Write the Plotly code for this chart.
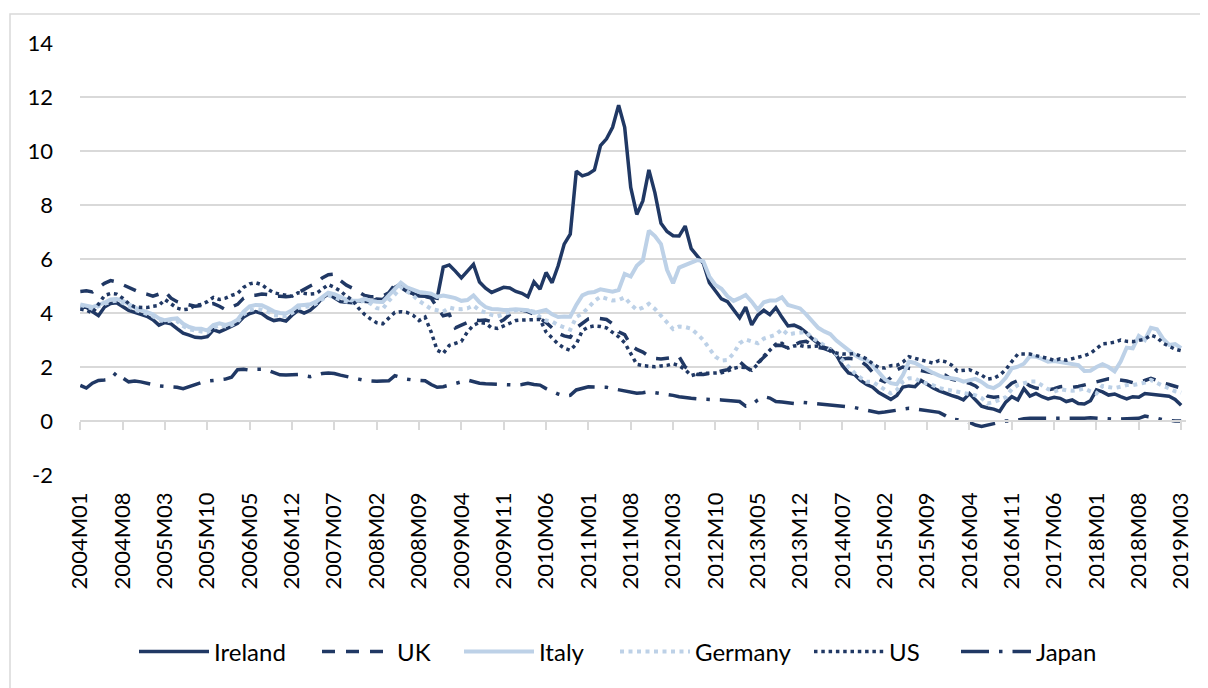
import plotly.graph_objects as go

months = [f"{2004 + k // 12}M{k % 12 + 1:02d}" for k in range(183)]
tick_labels = months[::7]
y_ticks = [-2, 0, 2, 4, 6, 8, 10, 12, 14]
y_tick_text = ["-2", "0", "2", "4", "6", "8", "10", "12", "14"]

ireland = [
    4.20, 4.22, 4.05, 3.90, 4.22, 4.35, 4.38, 4.25, 4.10, 4.02,
    3.95, 3.88, 3.75, 3.55, 3.65, 3.60, 3.42, 3.25, 3.18, 3.10,
    3.08, 3.12, 3.38, 3.30, 3.40, 3.50, 3.62, 3.85, 3.98, 4.05,
    3.98, 3.82, 3.72, 3.76, 3.70, 3.92, 4.10, 4.00, 4.10, 4.30,
    4.55, 4.70, 4.55, 4.42, 4.40, 4.38, 4.45, 4.42, 4.41, 4.52,
    4.50, 4.70, 4.95, 5.08, 4.85, 4.72, 4.63, 4.62, 4.60, 4.55,
    5.70, 5.78, 5.55, 5.30, 5.55, 5.80, 5.15, 4.92, 4.76, 4.85,
    4.95, 4.93, 4.80, 4.73, 4.60, 5.15, 4.88, 5.50, 5.12, 5.75,
    6.55, 6.92, 9.25, 9.08, 9.15, 9.30, 10.20, 10.45, 10.88, 11.70,
    10.88, 8.65, 7.65, 8.15, 9.30, 8.45, 7.32, 7.02, 6.86, 6.85,
    7.22, 6.38, 6.10, 5.84, 5.12, 4.80, 4.52, 4.42, 4.12, 3.82,
    4.22, 3.56, 3.92, 4.10, 3.94, 4.20, 3.84, 3.52, 3.55, 3.45,
    3.28, 3.05, 2.88, 2.72, 2.66, 2.45, 2.05, 1.78, 1.72, 1.50,
    1.35, 1.25, 1.05, 0.92, 0.80, 0.95, 1.26, 1.30, 1.27, 1.50,
    1.35, 1.22, 1.12, 1.02, 0.95, 0.88, 0.78, 1.02, 0.80, 0.55,
    0.48, 0.44, 0.36, 0.70, 0.90, 0.78, 1.20, 0.92, 1.02, 0.90,
    0.82, 0.88, 0.84, 0.72, 0.78, 0.65, 0.63, 0.75, 1.15, 1.08,
    0.96, 1.00, 0.90, 0.82, 0.90, 0.88, 1.02, 1.00, 0.97, 0.96,
    0.92, 0.80, 0.58,
]

uk = [
    4.80, 4.82, 4.78, 4.95, 5.10, 5.20, 5.15, 5.05, 4.95, 4.85,
    4.75, 4.70, 4.62, 4.70, 4.80, 4.55, 4.42, 4.35, 4.30, 4.25,
    4.28, 4.32, 4.35, 4.25, 4.12, 4.22, 4.32, 4.55, 4.65, 4.66,
    4.70, 4.68, 4.62, 4.62, 4.60, 4.62, 4.75, 4.90, 5.00, 5.10,
    5.30, 5.42, 5.44, 5.20, 5.03, 4.92, 4.80, 4.65, 4.60, 4.60,
    4.62, 4.75, 5.05, 4.95, 4.80, 4.72, 4.65, 4.62, 4.55, 4.20,
    3.90, 3.95, 3.45, 3.55, 3.65, 3.74, 3.72, 3.74, 3.68, 3.62,
    3.75, 3.95, 4.10, 4.11, 4.05, 3.95, 3.80, 3.65, 3.45, 3.25,
    3.15, 3.10, 3.45, 3.60, 3.78, 3.82, 3.80, 3.76, 3.60, 3.30,
    3.20, 2.80, 2.65, 2.55, 2.40, 2.32, 2.30, 2.32, 2.35, 2.38,
    2.00, 1.85, 1.72, 1.72, 1.75, 1.80, 1.85, 1.90, 2.10, 2.20,
    2.00, 1.85, 2.15, 2.35, 2.57, 2.81, 2.80, 2.70, 2.80, 2.92,
    2.95, 2.82, 2.72, 2.68, 2.60, 2.45, 2.30, 2.32, 2.30, 2.22,
    2.05, 1.80, 1.55, 1.45, 1.60, 1.90, 2.00, 1.95, 1.90, 1.85,
    1.80, 1.78, 1.75, 1.70, 1.55, 1.50, 1.45, 1.40, 1.30, 1.10,
    0.92, 0.88, 0.90, 1.20, 1.40, 1.50, 1.45, 1.30, 1.22, 1.18,
    1.15, 1.20, 1.27, 1.30, 1.25, 1.28, 1.33, 1.40, 1.46, 1.50,
    1.56, 1.55, 1.52, 1.48, 1.42, 1.40, 1.50, 1.58, 1.50, 1.40,
    1.35, 1.30, 1.22,
]

italy = [
    4.32, 4.28, 4.22, 4.30, 4.38, 4.50, 4.52, 4.45, 4.32, 4.20,
    4.12, 4.05, 3.95, 3.80, 3.73, 3.78, 3.80, 3.60, 3.48, 3.42,
    3.42, 3.35, 3.55, 3.62, 3.56, 3.62, 3.75, 4.05, 4.25, 4.30,
    4.29, 4.18, 4.06, 4.00, 3.98, 4.10, 4.28, 4.30, 4.32, 4.42,
    4.60, 4.75, 4.70, 4.60, 4.50, 4.46, 4.45, 4.52, 4.45, 4.42,
    4.41, 4.65, 4.90, 5.12, 4.95, 4.85, 4.78, 4.75, 4.72, 4.60,
    4.65, 4.60, 4.55, 4.45, 4.48, 4.65, 4.40, 4.22, 4.15, 4.14,
    4.11, 4.12, 4.14, 4.12, 4.10, 4.00, 4.05, 4.11, 3.95, 3.85,
    3.87, 3.86, 4.30, 4.65, 4.75, 4.78, 4.88, 4.85, 4.79, 4.85,
    5.45, 5.35, 5.75, 5.95, 7.05, 6.85, 6.55, 5.60, 5.10, 5.68,
    5.78, 5.86, 5.96, 5.92, 5.35, 5.04, 4.90, 4.62, 4.45, 4.55,
    4.67, 4.42, 4.12, 4.40, 4.46, 4.46, 4.58, 4.30, 4.22, 4.17,
    3.95, 3.68, 3.45, 3.32, 3.22, 2.98, 2.80, 2.60, 2.45, 2.32,
    2.26, 2.06, 1.80, 1.55, 1.40, 1.36, 1.70, 2.20, 2.15, 2.02,
    1.88, 1.78, 1.68, 1.60, 1.58, 1.55, 1.46, 1.52, 1.56, 1.45,
    1.28, 1.22, 1.35, 1.60, 1.95, 2.01, 2.12, 2.40, 2.38, 2.30,
    2.20, 2.22, 2.18, 2.16, 2.12, 2.07, 1.85, 1.86, 2.00, 2.10,
    2.00, 1.84, 2.20, 2.72, 2.69, 3.15, 3.00, 3.45, 3.40, 3.05,
    2.82, 2.85, 2.70,
]

germany = [
    4.25, 4.20, 4.15, 4.25, 4.32, 4.42, 4.45, 4.38, 4.25, 4.12,
    4.05, 3.98, 3.88, 3.75, 3.68, 3.72, 3.70, 3.52, 3.40, 3.35,
    3.32, 3.28, 3.45, 3.55, 3.50, 3.55, 3.68, 3.95, 4.10, 4.15,
    4.12, 4.05, 3.92, 3.90, 3.88, 4.00, 4.18, 4.22, 4.25, 4.35,
    4.50, 4.65, 4.58, 4.48, 4.42, 4.38, 4.40, 4.45, 4.35, 4.18,
    4.15, 4.45, 4.68, 4.95, 4.80, 4.65, 4.45, 4.32, 4.15, 4.10,
    4.05, 4.20, 4.15, 4.14, 4.17, 4.28, 4.10, 4.02, 3.93, 3.88,
    3.95, 4.02, 4.10, 4.11, 4.10, 4.05, 3.85, 3.72, 3.68, 3.55,
    3.45, 3.38, 3.85, 3.98, 4.20, 4.45, 4.60, 4.52, 4.46, 4.48,
    4.58, 4.32, 4.12, 4.20, 4.34, 4.15, 3.92, 3.65, 3.40, 3.50,
    3.48, 3.42, 3.22, 3.00, 2.68, 2.38, 2.24, 2.26, 2.50, 2.88,
    3.02, 2.95, 2.88, 3.05, 3.12, 3.20, 3.40, 3.20, 3.25, 3.28,
    3.30, 3.08, 2.95, 2.80, 2.63, 2.48, 2.25, 2.00, 1.78, 1.60,
    1.45, 1.45, 1.30, 1.15, 1.02, 1.15, 1.45, 1.58, 1.58, 1.45,
    1.40, 1.32, 1.22, 1.18, 1.12, 1.08, 1.03, 1.02, 0.95, 0.85,
    0.65, 0.70, 0.78, 0.88, 1.18, 1.33, 1.40, 1.46, 1.46, 1.30,
    1.18, 1.09, 1.18, 1.14, 1.12, 1.15, 1.20, 1.10, 1.02, 1.30,
    1.25, 1.22, 1.27, 1.33, 1.33, 1.36, 1.42, 1.52, 1.40, 1.30,
    1.21, 1.10, 1.05,
]

us = [
    4.15, 4.10, 4.00, 4.35, 4.65, 4.72, 4.70, 4.55, 4.35, 4.22,
    4.20, 4.20, 4.25, 4.28, 4.50, 4.35, 4.18, 4.12, 4.15, 4.28,
    4.32, 4.42, 4.58, 4.50, 4.55, 4.65, 4.72, 4.95, 5.08, 5.12,
    5.05, 4.88, 4.75, 4.70, 4.65, 4.62, 4.75, 4.72, 4.70, 4.72,
    4.88, 5.05, 4.95, 4.82, 4.62, 4.48, 4.18, 3.95, 3.78, 3.64,
    3.60, 3.82, 4.02, 4.05, 4.02, 3.92, 3.72, 3.85, 3.30, 2.62,
    2.50, 2.80, 2.88, 2.95, 3.30, 3.55, 3.65, 3.62, 3.45, 3.43,
    3.52, 3.62, 3.72, 3.74, 3.75, 3.74, 3.76, 3.30, 3.08, 2.85,
    2.70, 2.62, 2.85, 3.35, 3.48, 3.52, 3.50, 3.45, 3.28, 3.12,
    2.90, 2.48, 2.10, 2.05, 2.02, 2.01, 2.04, 2.06, 2.12, 2.05,
    1.90, 1.68, 1.75, 1.76, 1.75, 1.77, 1.79, 1.85, 1.95, 2.00,
    1.98, 1.88, 2.10, 2.40, 2.62, 2.85, 2.88, 2.70, 2.78, 2.80,
    2.75, 2.76, 2.78, 2.72, 2.60, 2.52, 2.48, 2.48, 2.50, 2.40,
    2.30, 2.12, 1.98, 1.96, 2.05, 2.06, 2.18, 2.38, 2.33, 2.28,
    2.20, 2.14, 2.24, 2.20, 2.08, 1.85, 1.88, 1.90, 1.80, 1.70,
    1.55, 1.58, 1.70, 1.90, 2.20, 2.48, 2.48, 2.48, 2.42, 2.38,
    2.32, 2.24, 2.30, 2.25, 2.30, 2.36, 2.42, 2.50, 2.70, 2.86,
    2.88, 2.92, 3.00, 2.95, 2.94, 2.98, 3.03, 3.18, 3.10, 2.88,
    2.76, 2.66, 2.60,
]

japan = [
    1.32, 1.22, 1.40, 1.50, 1.52, 1.55, 1.80, 1.60, 1.45, 1.48,
    1.45, 1.40, 1.32, 1.30, 1.28, 1.27, 1.25, 1.20, 1.28, 1.35,
    1.42, 1.48, 1.50, 1.52, 1.55, 1.62, 1.90, 1.92, 1.88, 1.92,
    1.92, 1.88, 1.78, 1.71, 1.70, 1.71, 1.72, 1.68, 1.64, 1.70,
    1.76, 1.78, 1.76, 1.70, 1.64, 1.60, 1.55, 1.50, 1.48, 1.47,
    1.48, 1.49, 1.68, 1.60, 1.55, 1.52, 1.50, 1.49, 1.35, 1.25,
    1.27, 1.32, 1.37, 1.45, 1.52, 1.45, 1.40, 1.38, 1.37, 1.35,
    1.33, 1.33, 1.33, 1.35, 1.40, 1.35, 1.33, 1.20, 1.09, 1.00,
    0.93, 0.95, 1.15, 1.20, 1.27, 1.26, 1.25, 1.25, 1.20, 1.15,
    1.11, 1.08, 1.03, 1.05, 1.09, 1.05, 1.02, 1.00, 0.95, 0.90,
    0.86, 0.84, 0.82, 0.82, 0.80, 0.79, 0.78, 0.76, 0.74, 0.72,
    0.55, 0.60, 0.78, 0.90, 0.85, 0.72, 0.70, 0.68, 0.65, 0.70,
    0.68, 0.65, 0.63, 0.60, 0.58, 0.56, 0.55, 0.53, 0.50, 0.45,
    0.40, 0.35, 0.31, 0.33, 0.36, 0.38, 0.42, 0.47, 0.45, 0.42,
    0.40, 0.36, 0.32, 0.20, 0.07, 0.05, 0.02, -0.05, -0.15, -0.20,
    -0.15, -0.10, -0.05, 0.00, 0.00, 0.05, 0.08, 0.10, 0.10, 0.09,
    0.07, 0.10, 0.08, 0.07, 0.07, 0.08, 0.10, 0.12, 0.10, 0.08,
    0.07, 0.07, 0.07, 0.07, 0.08, 0.10, 0.18, 0.15, 0.10, 0.05,
    0.02, 0.00, 0.00,
]

NAVY = "#203864"
LIGHT = "#BDD1E7"
GRID = "#D9D9D9"
FONT = "Lato"

series = [
    ("Ireland", ireland, NAVY, 3.5, "solid"),
    ("UK", uk, NAVY, 3.5, "13px,11px"),
    ("Italy", italy, LIGHT, 4.0, "solid"),
    ("Germany", germany, LIGHT, 4.0, "4px,4.5px"),
    ("US", us, NAVY, 3.5, "3.5px,3.8px"),
    ("Japan", japan, NAVY, 3.5, "28px,10px,3.5px,10px"),
]

# The page body adds an 8 px offset; all screen positions below are in
# screenshot pixels and converted to figure pixels.
OFF = 8
W, H = 1208 - OFF, 688 - OFF
ML, MT = 80 - OFF, 43 - OFF
PLOT_RIGHT, PLOT_BOTTOM = 1186 - OFF, 475 - OFF
MR, MB = W - PLOT_RIGHT, H - PLOT_BOTTOM
PW = W - ML - MR
PH = H - MT - MB

def px_to_paper_x(px):
    return (px - OFF - ML) / PW

def px_to_paper_y(py):
    return (PLOT_BOTTOM - (py - OFF)) / PH

legend_text_x = [212, 395, 537, 693, 887, 1034]
legend_names = ["legend", "legend2", "legend3", "legend4", "legend5", "legend6"]
ITEMW = 70
TEXT_OFFSET = 78

fig = go.Figure()
for (name, vals, color, width, dash), lg in zip(series, legend_names):
    fig.add_trace(go.Scatter(
        x=months, y=vals, name=name, mode="lines",
        line=dict(color=color, width=width, dash=dash),
        legend=lg, hoverinfo="skip",
    ))

# empty trace that carries the category axis drawn along y = 0
fig.add_trace(go.Scatter(x=[months[0]], y=[None], xaxis="x2", showlegend=False,
                         hoverinfo="skip", mode="lines"))

layout_legends = {}
for lg, tx in zip(legend_names, legend_text_x):
    layout_legends[lg] = dict(
        x=px_to_paper_x(tx - TEXT_OFFSET), y=px_to_paper_y(652),
        xanchor="left", yanchor="middle", orientation="h",
        itemwidth=ITEMW, bgcolor="rgba(0,0,0,0)",
        font=dict(family=FONT, size=24, color="#000000"),
    )

x_range = [-0.05, 182.8]

fig.update_layout(
    width=W, height=H,
    margin=dict(l=ML, r=MR, t=MT, b=MB, pad=0),
    paper_bgcolor="white", plot_bgcolor="white",
    font=dict(family=FONT, size=22, color="#000000"),
    xaxis=dict(
        type="category", range=x_range,
        tickmode="array", tickvals=tick_labels, ticktext=tick_labels,
        tickangle=-90, ticks="", showline=False, showgrid=False, zeroline=False,
        ticklabelstandoff=12,
        tickfont=dict(family=FONT, size=22, color="#000000"),
    ),
    xaxis2=dict(
        type="category", matches="x", overlaying="x", anchor="free",
        position=px_to_paper_y(421), side="bottom",
        tickmode="array", tickvals=tick_labels, showticklabels=False,
        ticks="outside", ticklen=8, tickwidth=1.5, tickcolor=GRID,
        showline=True, linecolor=GRID, linewidth=2, showgrid=False, zeroline=False,
    ),
    yaxis=dict(
        range=[-2, 14], tickmode="array", tickvals=y_ticks, ticktext=y_tick_text,
        showgrid=True, gridcolor=GRID, gridwidth=1.5, zeroline=False,
        ticks="", ticklabelstandoff=26,
        tickfont=dict(family=FONT, size=22, color="#000000"),
    ),
    shapes=[dict(
        type="rect", xref="paper", yref="paper",
        x0=px_to_paper_x(10), x1=px_to_paper_x(1230),
        y0=px_to_paper_y(720), y1=px_to_paper_y(14),
        line=dict(color=GRID, width=1.5), fillcolor="rgba(0,0,0,0)", layer="below",
    )],
    **layout_legends,
)

fig.write_html("out.html")
